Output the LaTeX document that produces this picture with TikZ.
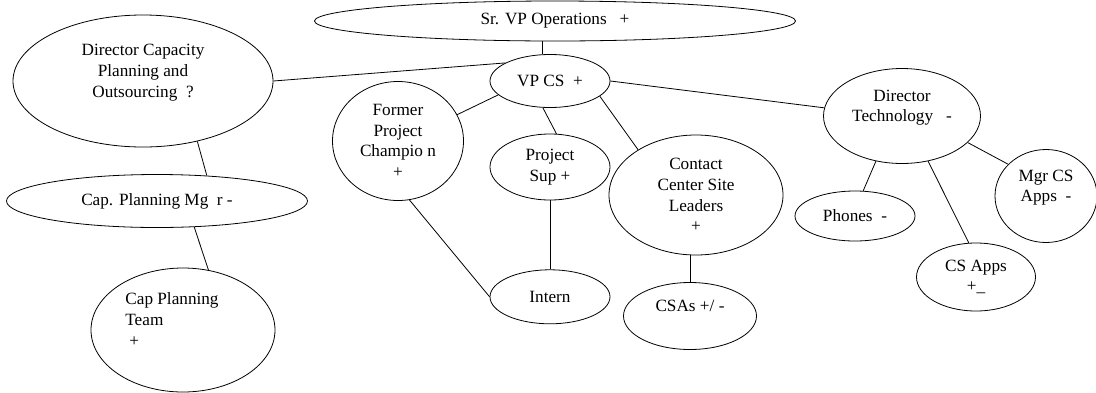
\documentclass[tikz,border=0pt]{standalone}
\usepackage{fontspec}
\setmainfont{Liberation Serif}
\usetikzlibrary{shapes.geometric, positioning}
\begin{document}
\begin{tikzpicture}[x=1pt, y=-1pt, line width=0.8pt, font=\fontsize{17.2}{20.7}\selectfont,
        main/.style = {draw, ellipse, inner sep=0pt, align=center}]
        \useasboundingbox (0,0) rectangle (1096,392);

        \node[main, minimum width=481pt, minimum height=40pt]  (1)  at (555,21)  {Sr. VP Operations\ \ \ +};
        \node[main, minimum width=120pt, minimum height=53pt]  (2)  at (550,81)  {VP CS\ \ +};
        \node[main, minimum width=260pt, minimum height=132pt] (3)  at (143,81)  {Director Capacity\\Planning and\\Outsourcing\ \ ?\\\mbox{}};
        \node[main, minimum width=301pt, minimum height=53pt]  (4)  at (157,201) {Cap. Planning Mg\ \ r -};
        \node[main, minimum width=184pt, minimum height=124pt, align=left] (5) at (183,330) {Cap Planning\hspace*{22pt}\\Team\\\hspace*{4pt}+\\\mbox{}};
        \node[main, minimum width=131pt, minimum height=119pt] (6)  at (398,141) {Former\\Project\\Champio n\\+};
        \node[main, minimum width=120pt, minimum height=66pt]  (7)  at (550,167) {Project\\Sup +};
        \node[main, minimum width=174pt, minimum height=120pt] (8)  at (696,195) {Contact\\Center Site\\Leaders\\+};
        \node[main, minimum width=157pt, minimum height=95pt]  (9)  at (902,116) {Director\\Technology\ \ \ -\\\mbox{}};
        \node[main, minimum width=120pt, minimum height=54pt]  (10) [below=69pt of 7] {Intern};
        \node[main, minimum width=133pt, minimum height=67pt]  (11) at (690,316) {CSAs +/ -\\\mbox{}};
        \node[main, minimum width=120pt, minimum height=50pt]  (12) at (855,216) {Phones\ \ -};
        \node[main, minimum width=119pt, minimum height=68pt]  (13) at (976,277) {CS Apps\\+\_};
        \node[main, minimum width=102pt, minimum height=93pt]  (14) at (1046,196) {Mgr CS\\Apps\ \ -\\\mbox{}};

        \draw (2.105) -- (2.105 |- 1.south);
        \draw (3.east) -- (2.158);
        \draw (3.-48) -- (4.27);
        \draw (4.-35) -- (5.67);
        \draw (2.195) -- (6.24);
        \draw (2.255) -- (7.79);
        \draw (2.-17) -- (8.142);
        \draw (2.east) -- (9.174);
        \draw (7.south) -- (10.north);
        \draw (6.-79) -- (10.west);
        \draw (8.south -| 11.north) -- (11.north);
        \draw (9.240) -- (12.72);
        \draw (9.-60) -- (13.102);
        \draw (9.-22) -- (14.140);

    \end{tikzpicture}
\end{document}
